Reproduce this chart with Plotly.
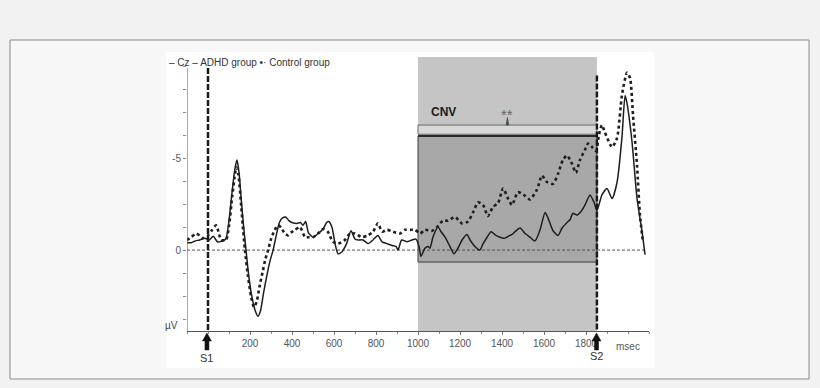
import plotly.graph_objects as go

# ---- data ----
adhd_t = [-100, -80, -60, -40, -15, 5, 25, 45, 70, 85, 100, 115, 128, 138, 148, 160, 172, 181, 195, 210,
          225, 238, 250, 265, 280, 295, 310, 325, 340, 355, 370, 385, 400, 423, 440, 452, 465, 478, 500, 524,
          548, 565, 575, 590, 605, 619, 637, 660, 681, 700, 715, 738, 762, 786, 809, 829, 852, 876, 895, 905,
          922, 948, 971, 990, 1005, 1014, 1033, 1048, 1057, 1071, 1095, 1110, 1129, 1152, 1171, 1190, 1210,
          1233, 1248, 1271, 1295, 1310, 1329, 1348, 1371, 1390, 1414, 1438, 1448, 1462, 1486, 1510, 1533,
          1557, 1581, 1605, 1619, 1643, 1667, 1686, 1710, 1724, 1738, 1757, 1776, 1795, 1819, 1838, 1852,
          1876, 1900, 1924, 1948, 1971, 1986, 1995, 2019, 2043, 2067, 2081]
adhd_v = [-0.4, -0.4, -0.5, -0.55, -0.65, -0.55, -0.75, -0.45, -0.5, -0.6, -1.6, -3.2, -4.4, -4.9, -4.2, -2.5, -1.0, 0.0, 1.5, 2.6,
          3.3, 3.6, 3.3, 2.3, 1.4, 0.6, 0.0, -0.8, -1.5, -1.75, -1.8, -1.6, -1.5, -1.45, -1.5, -1.35, -1.55, -0.95, -0.7, -0.9,
          -1.15, -1.5, -1.55, -1.25, -0.35, 0.2, 0.1, -0.35, -1.05, -0.6, -0.55, -0.55, -0.35, -0.55, -0.8, -0.45, -0.35, -0.25, -0.2, 0.0,
          -0.55, -0.45, -0.55, -0.6, -0.2, 0.35, -0.1, -0.2, -0.1, -0.7, -1.25, -1.0, -0.7, -0.2, 0.2, -0.1, -0.55,
          -0.85, -0.55, -0.2, 0.0, -0.35, -0.7, -1.0, -0.8, -0.7, -0.65, -0.8, -0.85, -1.0, -1.2, -0.9, -0.7,
          -0.5, -1.1, -2.05, -1.75, -1.05, -0.8, -1.2, -1.5, -1.65, -2.0, -1.9, -2.1, -2.45, -3.0, -2.6, -2.15,
          -3.0, -3.35, -2.8, -3.7, -6.1, -8.4, -8.0, -5.9, -2.8, -1.0, 0.25]

ctrl_t = [-100, -80, -57, -40, -24, 0, 20, 38, 50, 62, 86, 100, 115, 127, 135, 145, 158, 168, 176, 190,
          205, 219, 232, 245, 260, 273, 286, 300, 318, 335, 350, 365, 381, 395, 414, 438, 462, 480, 500, 524,
          548, 570, 595, 619, 652, 676, 700, 733, 762, 786, 809, 829, 852, 881, 914, 938, 962, 986, 1010, 1033,
          1067, 1090, 1119, 1143, 1176, 1210, 1238, 1262, 1286, 1310, 1333, 1357, 1381, 1405, 1429, 1448, 1476,
          1510, 1533, 1567, 1590, 1614, 1643, 1667, 1690, 1710, 1733, 1752, 1771, 1795, 1810, 1829, 1848, 1862,
          1876, 1890, 1924, 1948, 1971, 1995, 2010, 2024, 2043, 2057, 2071]
ctrl_v = [-0.55, -0.7, -0.9, -0.8, -0.65, -0.8, -1.1, -1.35, -1.0, -0.55, -0.55, -1.3, -2.9, -4.0, -4.5, -4.1, -2.4, -1.0, 0.0, 1.4,
          2.5, 3.1, 2.8, 2.0, 1.2, 0.5, 0.0, -0.6, -1.1, -1.35, -1.2, -0.9, -0.8, -0.95, -1.1, -1.25, -0.7, -0.7, -0.7, -0.9,
          -1.15, -1.0, -0.45, -0.35, -0.55, -0.9, -0.9, -0.7, -0.8, -1.0, -1.45, -1.0, -1.1, -1.0, -0.9, -1.1, -1.1, -1.1, -0.9, -1.1,
          -1.05, -1.25, -1.6, -1.6, -1.8, -1.45, -1.55, -2.05, -2.6, -2.45, -1.85, -2.35, -2.55, -3.35, -2.8, -2.45, -3.15,
          -2.95, -2.75, -3.3, -4.05, -3.7, -3.6, -4.15, -4.9, -5.15, -4.7, -4.2, -4.9, -5.45, -5.8, -5.6, -5.4, -6.3,
          -6.8, -6.4, -5.6, -6.1, -8.4, -9.65, -9.35, -7.3, -4.6, -1.9, -0.45]

x_tick_vals = [200, 400, 600, 800, 1000, 1200, 1400, 1600, 1800]
x_tick_text = ["200", "400", "600", "800", "1000", "1200", "1400", "1600", "1800"]
y_tick_vals = [-10, -8.75, -7.5, -6.25, -5, -3.75, -2.5, -1.25, 0, 1.25, 2.5, 3.75]
y_tick_text = ["", "", "", "", "-5", "", "", "", "0", "", "", ""]

s1_time = 0
s2_time = 1852
cnv_start = 1000
cnv_box = (-6.2, 0.65)
cnv_strip = (-6.8, -6.3)

# ---- layout geometry ----
W, H = 820, 388
L, R, T, B = 187, 649, 57, 331
XR = [-100, 2100]
YR = [4.4, -10.5]


def px(x):
    return (x - L) / (R - L)


def py(y):
    return (B - y) / (B - T)


FONT = "Liberation Sans, Arial, sans-serif"
fig = go.Figure()

fig.add_trace(go.Scatter(x=adhd_t, y=adhd_v, mode="lines", name="ADHD group",
                         line=dict(color="#1e1e1e", width=1.5, shape="spline", smoothing=0.6)))
fig.add_trace(go.Scatter(x=ctrl_t, y=ctrl_v, mode="lines", name="Control group",
                         line=dict(color="#1e1e1e", width=2.6, dash="dot", shape="spline", smoothing=0.6)))

shapes = []
# page frame + white picture
shapes.append(dict(type="rect", xref="paper", yref="paper", x0=px(10), x1=px(809), y0=py(40), y1=py(379),
                   fillcolor="#f7f7f7", line=dict(color="#8a8a8a", width=1), layer="below"))
shapes.append(dict(type="rect", xref="paper", yref="paper", x0=px(166), x1=px(654), y0=py(52), y1=py(368),
                   fillcolor="#ffffff", line=dict(width=0), layer="below"))
# CNV shaded window
shapes.append(dict(type="rect", xref="x", yref="paper", x0=cnv_start, x1=s2_time, y0=0, y1=1,
                   fillcolor="#c5c5c5", line=dict(width=0), layer="below"))
shapes.append(dict(type="rect", xref="x", yref="y", x0=cnv_start, x1=s2_time, y0=cnv_box[0], y1=cnv_box[1],
                   fillcolor="#a8a8a8", line=dict(color="#3a3a3a", width=1), layer="below"))
shapes.append(dict(type="line", xref="x", yref="y", x0=cnv_start, x1=s2_time, y0=cnv_box[0], y1=cnv_box[0],
                   line=dict(color="#2a2a2a", width=2), layer="below"))
shapes.append(dict(type="rect", xref="x", yref="y", x0=cnv_start, x1=s2_time, y0=cnv_strip[0], y1=cnv_strip[1],
                   fillcolor="#d8d8d8", line=dict(color="#6a6a6a", width=1), layer="below"))
mid = (cnv_start + s2_time) / 2
shapes.append(dict(type="path", xref="x", yref="y",
                   path=f"M {mid-6},{cnv_strip[0]} L {mid},{cnv_strip[0]-0.4} L {mid+6},{cnv_strip[0]} Z",
                   fillcolor="#555555", line=dict(color="#555555", width=1), layer="below"))
# zero line
shapes.append(dict(type="line", xref="x", yref="y", x0=XR[0], x1=2090, y0=0, y1=0,
                   line=dict(color="#555555", width=1, dash="3px,2px"), layer="below"))
# y axis line
shapes.append(dict(type="line", xref="x", yref="y", x0=XR[0], x1=XR[0], y0=-9.9, y1=YR[0],
                   line=dict(color="#555555", width=1)))
# S1 / S2 dashed lines
shapes.append(dict(type="line", xref="x", yref="y", x0=s1_time, x1=s1_time, y0=-9.9, y1=YR[0],
                   line=dict(color="#1a1a1a", width=2.5, dash="6px,2px")))
shapes.append(dict(type="line", xref="x", yref="y", x0=s2_time, x1=s2_time, y0=-9.5, y1=YR[0],
                   line=dict(color="#1a1a1a", width=2.5, dash="6px,2px")))
# arrows under the axis
for xt in (s1_time - 5, s2_time - 2):
    hw = 4.5 / 0.21
    sw = 2.0 / 0.21
    shapes.append(dict(type="path", xref="x", yref="paper",
                       path=(f"M {xt},{py(333)} L {xt+hw},{py(341)} L {xt+sw},{py(341)} L {xt+sw},{py(350)} "
                             f"L {xt-sw},{py(350)} L {xt-sw},{py(341)} L {xt-hw},{py(341)} Z"),
                       fillcolor="#111111", line=dict(color="#111111", width=0.5)))

annotations = [
    dict(text="– Cz – ADHD group •· Control group", xref="paper", yref="paper", x=px(167), y=py(62),
         xanchor="left", yanchor="middle", showarrow=False, font=dict(size=10, color="#333333", family=FONT)),
    dict(text="µV", xref="paper", yref="paper", x=px(180), y=py(325), xanchor="right", yanchor="middle",
         showarrow=False, font=dict(size=10, color="#444444", family=FONT)),
    dict(text="msec", xref="paper", yref="paper", x=px(628), y=py(346), xanchor="center", yanchor="middle",
         showarrow=False, font=dict(size=10, color="#555555", family=FONT)),
    dict(text="S1", xref="x", yref="paper", x=s1_time - 5, y=py(358), xanchor="center", yanchor="middle",
         showarrow=False, font=dict(size=11, color="#333333", family=FONT)),
    dict(text="S2", xref="x", yref="paper", x=s2_time - 2, y=py(356), xanchor="center", yanchor="middle",
         showarrow=False, font=dict(size=11, color="#333333", family=FONT)),
    dict(text="<b>CNV</b>", xref="x", yref="y", x=1120, y=-7.5, xanchor="center", yanchor="middle",
         showarrow=False, font=dict(size=12, color="#1a1a1a", family=FONT)),
    dict(text="**", xref="x", yref="y", x=mid, y=-7.4, xanchor="center", yanchor="middle",
         showarrow=False, font=dict(size=15, color="#666666", family=FONT)),
]

fig.update_layout(
    width=W, height=H,
    margin=dict(l=L, r=W - R, t=T, b=H - B, pad=0),
    paper_bgcolor="#f2f2f2", plot_bgcolor="rgba(0,0,0,0)",
    showlegend=False,
    shapes=shapes, annotations=annotations,
    xaxis=dict(range=XR, showgrid=False, zeroline=False, showline=True, linecolor="#555555", linewidth=1,
               tickvals=x_tick_vals, ticktext=x_tick_text, ticks="outside", ticklen=3, tickcolor="#777777",
               minor=dict(dtick=100, ticks="outside", ticklen=2, tickcolor="#888888"),
               tickfont=dict(size=10, color="#555555", family=FONT)),
    yaxis=dict(range=YR, showgrid=False, zeroline=False, showline=False,
               tickvals=y_tick_vals, ticktext=y_tick_text, ticks="outside", ticklen=3, tickcolor="#888888",
               tickfont=dict(size=10, color="#555555", family=FONT)),
)

fig.write_html("out.html", config={"displayModeBar": False},
               post_script="document.body.style.margin='0';document.body.style.background='#f2f2f2';")
